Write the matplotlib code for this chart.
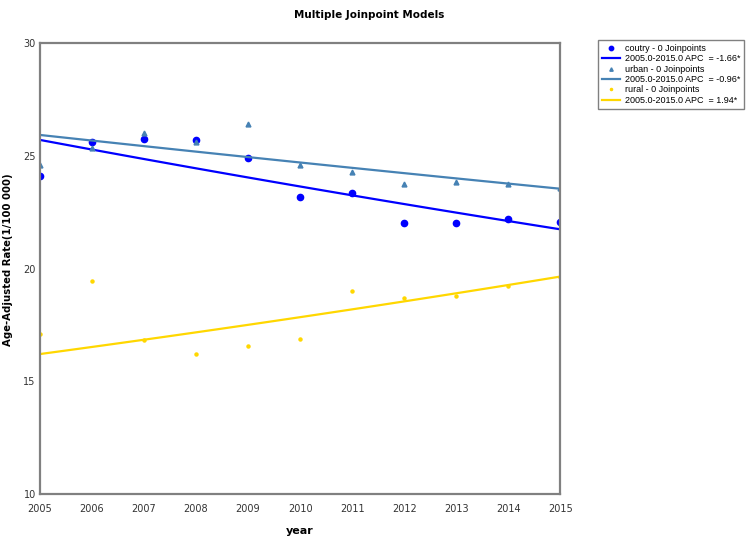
import numpy as np
import matplotlib.pyplot as plt

years = np.arange(2005, 2016)

coutry = [24.09, 25.60, 25.74, 25.68, 24.89, 23.19, 23.33, 22.03, 22.00, 22.18, 22.06]
urban = [24.58, 25.36, 26.00, 25.60, 26.39, 24.59, 24.27, 23.73, 23.85, 23.73, 23.56]
rural = [17.10, 19.45, 16.82, 16.21, 16.56, 16.86, 19.00, 18.68, 18.77, 19.22, 19.64]

# joinpoint model: start value at 2005 and APC from the legend
fit_start = {"coutry": 25.70, "urban": 25.92, "rural": 16.21}
apc = {"coutry": -1.66, "urban": -0.96, "rural": 1.94}

colors = {"coutry": "#0000ff", "urban": "#4682b4", "rural": "#ffd700"}
markers = {"coutry": ("o", 4.5), "urban": ("^", 3.5), "rural": ("o", 2.2)}
series = {"coutry": coutry, "urban": urban, "rural": rural}

fig = plt.figure(figsize=(7.53, 5.36), dpi=100)
ax = fig.add_axes([0.053, 0.078, 0.691, 0.842])

t = np.linspace(2005, 2015, 50)
for name in ["coutry", "urban", "rural"]:
    m, ms = markers[name]
    ax.plot(years, series[name], linestyle="none", marker=m, ms=ms,
            color=colors[name], label=f"{name} - 0 Joinpoints")
    model = fit_start[name] * (1 + apc[name] / 100) ** (t - 2005)
    ax.plot(t, model, color=colors[name], lw=1.6,
            label=f"2005.0-2015.0 APC  = {apc[name]:.2f}*")

ax.set_xlim(2005, 2015)
ax.set_ylim(10, 30)
ax.set_xticks(years)
ax.set_yticks([10, 15, 20, 25, 30])
ax.tick_params(length=0, labelsize=7, colors="#333333")
ax.tick_params(axis="x", pad=7)
ax.tick_params(axis="y", pad=3)
for s in ax.spines.values():
    s.set_color("#808080")
    s.set_linewidth(1.6)

ax.set_xlabel("year", fontsize=8, fontweight="bold", labelpad=9)
ax.set_ylabel("Age-Adjusted Rate(1/100 000)", fontsize=7.3, fontweight="bold")
ax.yaxis.set_label_coords(-0.052, 0.52)
fig.text(0.49, 0.982, "Multiple Joinpoint Models", ha="center", va="top",
         fontsize=7.5, fontweight="bold")

leg = fig.legend(loc="upper left", bbox_to_anchor=(0.788, 0.934),
                 prop={"family": "Liberation Sans", "size": 6.5},
                 frameon=True, fancybox=False, edgecolor="#606060",
                 handlelength=2.0, labelspacing=0.15, borderpad=0.45,
                 handletextpad=0.5, markerscale=0.7)
leg.get_frame().set_linewidth(1.0)

fig.savefig("out.png", dpi=100)
